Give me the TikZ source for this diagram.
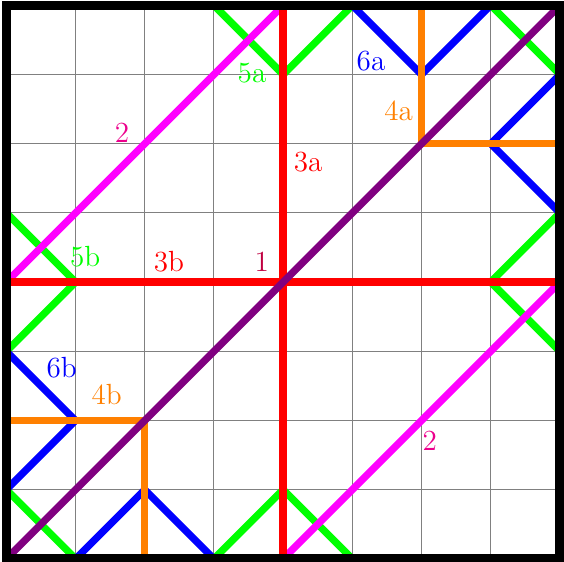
\documentclass[tikz,border=0pt]{standalone}
\definecolor{linemagenta}{rgb}{1,0,1}
\definecolor{lineviolet}{rgb}{0.5,0,0.5}
\tikzset{
  seg/.style={line width=3pt},
  lbl/.style={inner sep=0pt, font=\large},
}
\begin{document}
\begin{tikzpicture}
\useasboundingbox (-0.092,-0.038) rectangle (8.059,8.077);
\draw[gray, line width=0.4pt] (0,0) grid (8,8);
% green
\draw[seg, green] (3,8) -- (4,7) -- (5,8);
\draw[seg, green] (7,8) -- (8,7);
\draw[seg, green] (8,5) -- (7,4) -- (8,3);
\draw[seg, green] (0,5) -- (1,4) -- (0,3);
\draw[seg, green] (0,1) -- (1,0);
\draw[seg, green] (3,0) -- (4,1) -- (5,0);
% blue
\draw[seg, blue] (5,8) -- (6,7) -- (7,8);
\draw[seg, blue] (8,7) -- (7,6) -- (8,5);
\draw[seg, blue] (0,3) -- (1,2) -- (0,1);
\draw[seg, blue] (1,0) -- (2,1) -- (3,0);
% magenta
\draw[seg, linemagenta] (0,4) -- (4,8);
\draw[seg, linemagenta] (4,0) -- (8,4);
% orange
\draw[seg, orange] (6,8) -- (6,6) -- (8,6);
\draw[seg, orange] (0,2) -- (2,2) -- (2,0);
% red
\draw[seg, red] (4,0) -- (4,8);
\draw[seg, red] (0,4) -- (8,4);
% purple diagonal
\draw[seg, lineviolet] (0,0) -- (8,8);
% border
\draw[line width=3.7pt] (0,0) rectangle (8,8);
% labels
\node[lbl, text=green] (l5a) at (3.55,7.02) {5a};
\node[lbl, text=blue] (l6a) at (5.27,7.20) {6a};
\node[lbl, text=orange] (l4a) at (5.67,6.48) {4a};
\node[lbl, text=magenta] (l2a) at (1.67,6.16) {2};
\node[lbl, text=red] (l3a) at (4.36,5.74) {3a};
\node[lbl, text=green] (l5b) at (1.14,4.37) {5b};
\node[lbl, text=red] (l3b) at (2.35,4.29) {3b};
\node[lbl, text=purple] (l1) at (3.69,4.29) {1};
\node[lbl, text=blue] (l6b) at (0.80,2.77) {6b};
\node[lbl, text=orange] (l4b) at (1.45,2.37) {4b};
\node[lbl, text=magenta] (l2b) at (6.12,1.71) {2};
\end{tikzpicture}
\end{document}
